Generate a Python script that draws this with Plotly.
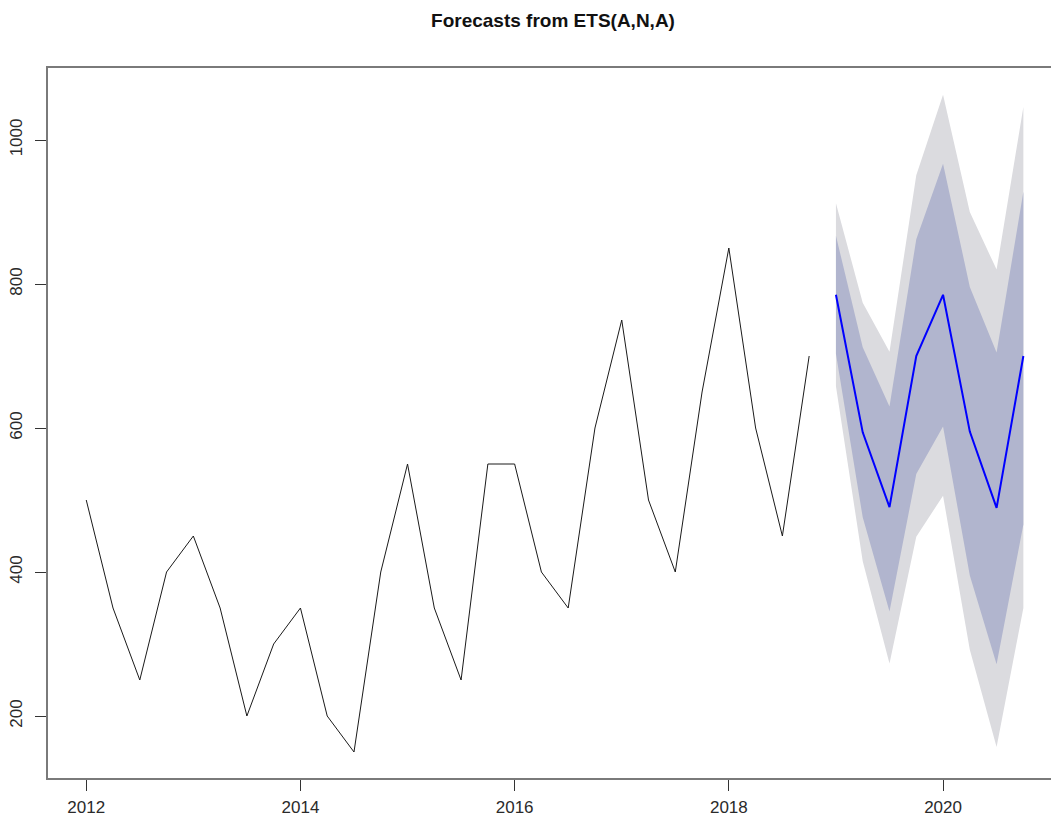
import plotly.graph_objects as go

# Quarterly series, starting 2012 Q1
start_year = 2012
freq = 4
history = [500, 350, 250, 400, 450, 350, 200, 300, 350, 200, 150, 400,
           550, 350, 250, 550, 550, 400, 350, 600, 750, 500, 400, 650,
           850, 600, 450, 700]

# Point forecasts and prediction intervals, 2019 Q1 - 2020 Q4
forecast = [785, 594, 490, 700, 785, 595, 489, 700]
lo80 = [703, 476, 345, 536, 602, 395, 272, 466]
hi80 = [867, 712, 630, 862, 967, 796, 705, 928]
lo95 = [658, 415, 273, 449, 506, 292, 157, 350]
hi95 = [912, 774, 706, 951, 1063, 900, 820, 1046]

x_ticks = [2012, 2014, 2016, 2018, 2020]
y_ticks = [200, 400, 600, 800, 1000]

t_hist = [start_year + i / freq for i in range(len(history))]
t0 = start_year + len(history) / freq
t_fc = [t0 + i / freq for i in range(len(forecast))]

fig = go.Figure()


def band(lo, hi, color):
    return go.Scatter(
        x=t_fc + t_fc[::-1],
        y=hi + lo[::-1],
        fill="toself",
        fillcolor=color,
        line=dict(width=0),
        mode="lines",
        hoverinfo="skip",
        showlegend=False,
    )


fig.add_trace(band(lo95, hi95, "#DBDBDF"))
fig.add_trace(band(lo80, hi80, "#B1B5CE"))
fig.add_trace(go.Scatter(x=t_fc, y=forecast, mode="lines",
                         line=dict(color="#0000FF", width=2), showlegend=False))
fig.add_trace(go.Scatter(x=t_hist, y=history, mode="lines",
                         line=dict(color="#1a1a1a", width=1), showlegend=False))

axis_font = dict(family="Liberation Sans, Arial, sans-serif", size=17, color="#2a2a2a")

fig.update_layout(
    width=1051,
    height=818,
    margin=dict(l=48, r=0, t=68, b=40),
    paper_bgcolor="white",
    plot_bgcolor="white",
    title=dict(
        text="<b>Forecasts from ETS(A,N,A)</b>",
        font=dict(family="Liberation Sans, Arial, sans-serif", size=19, color="#111"),
        xref="container", x=553 / 1051, xanchor="center",
        yref="container", y=1 - 20 / 818, yanchor="middle",
    ),
    xaxis=dict(
        range=[2011.643, 2021.008],
        tickvals=x_ticks,
        ticktext=[str(v) for v in x_ticks],
        showgrid=False, zeroline=False,
        showline=True, linecolor="#7a7a7a", linewidth=2, mirror=True,
        ticks="outside", ticklen=11, tickwidth=1, tickcolor="#333",
        tickfont=axis_font,
        ticklabelstandoff=2,
    ),
    yaxis=dict(
        range=[113.9, 1100],
        tickvals=y_ticks,
        ticktext=[str(v) for v in y_ticks],
        showgrid=False, zeroline=False,
        showline=True, linecolor="#7a7a7a", linewidth=2, mirror=False,
        ticks="outside", ticklen=11, tickwidth=1, tickcolor="#333",
        tickangle=-90,
        tickfont=axis_font,
        ticklabelstandoff=6,
    ),
)

fig.write_html("out.html")
